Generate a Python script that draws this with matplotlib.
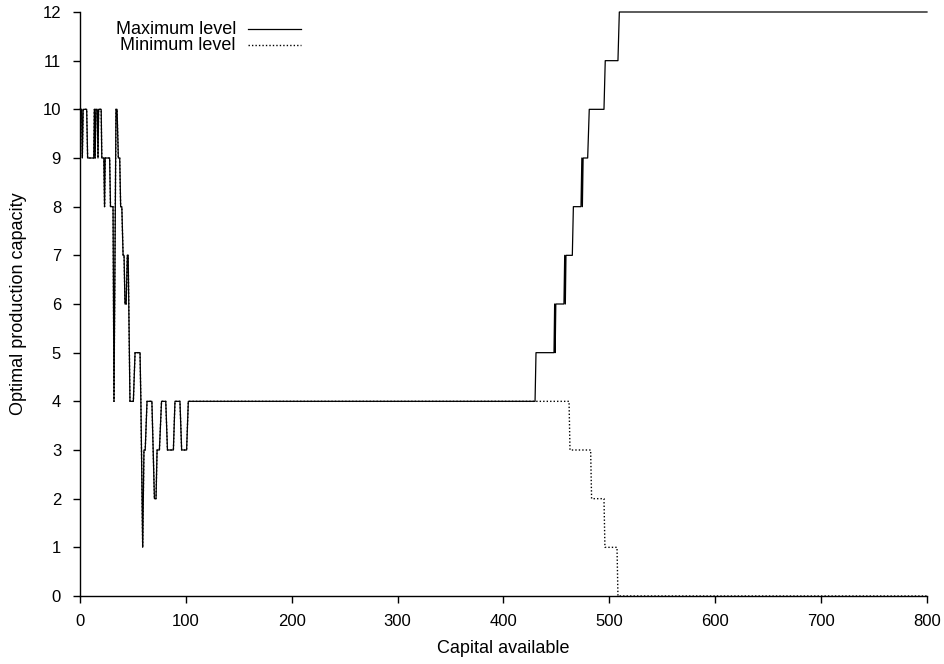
import matplotlib
matplotlib.use("Agg")
import matplotlib.pyplot as plt
from matplotlib.lines import Line2D

plt.rcParams['font.family'] = ['Liberation Sans', 'DejaVu Sans']

# Maximum level (capital, capacity) breakpoints
max_x = [0, 1.5, 2.2, 3.0, 6.3, 7.2, 13.0, 13.6, 14.3, 15.0, 16.3, 17.0, 17.6, 20.0, 20.6,
         22.5, 23.2, 23.8, 28.0, 28.8, 31.2, 32.1, 34.0, 35.0, 36.2, 37.5, 38.4, 39.5,
         40.7, 41.6, 42.5, 43.6, 44.7, 45.5, 47.2, 50.4, 52.0, 56.7, 57.5, 59.2, 60.4,
         61.6, 63.3, 67.9, 70.3, 71.8, 72.8, 75.0, 77.0, 81.0, 82.6, 88.2, 89.7, 94.4,
         96.0, 100.7, 102.3, 429.8, 430.7, 447.7, 448.3, 448.8, 449.4, 457.1, 457.8,
         458.4, 459.0, 465.0, 466.0, 473.2, 474.0, 474.5, 475.2, 479.5, 481.0, 494.9,
         496.1, 508.1, 509.4, 800]
max_y = [10, 10, 9, 10, 10, 9, 9, 10, 9, 10, 10, 9, 10, 10, 9,
         9, 8, 9, 9, 8, 8, 4, 10, 10, 9, 9, 8, 8,
         7, 7, 6, 6, 7, 7, 4, 4, 5, 5, 4, 1, 3,
         3, 4, 4, 2, 2, 3, 3, 4, 4, 3, 3, 4, 4,
         3, 3, 4, 4, 5, 5, 6, 5, 6, 6, 7,
         6, 7, 7, 8, 8, 9, 8, 9, 9, 10, 10,
         11, 11, 12, 12]

# Minimum level: identical to maximum up to 102.3, then its own steps
min_x = max_x[:57] + [461.9, 462.8, 482.3, 483.2, 494.9, 495.8, 507.2, 508.1, 800]
min_y = max_y[:57] + [4, 3, 3, 2, 2, 1, 1, 0, 0]

x_ticks = [0, 100, 200, 300, 400, 500, 600, 700, 800]
y_ticks = list(range(0, 13))

W, H = 945, 664
fig = plt.figure(figsize=(W / 100, H / 100), dpi=100)
ax = fig.add_axes([80 / W, 1 - 596 / H, 847 / W, 584 / H])

ax.plot(min_x, min_y, color='black', lw=1.0, linestyle=(0, (1, 1.5)), clip_on=False)
ax.plot(max_x, max_y, color='black', lw=0.9, clip_on=False)

ax.set_xlim(0, 800)
ax.set_ylim(0, 12)
ax.set_xticks(x_ticks)
ax.set_yticks(y_ticks)
ax.spines['top'].set_visible(False)
ax.spines['right'].set_visible(False)
for s in ('left', 'bottom'):
    ax.spines[s].set_linewidth(1.0)
ax.tick_params(direction='out', length=5, width=1.0, labelsize=12)
ax.tick_params(axis='x', pad=8)
ax.tick_params(axis='y', pad=8.6)

ax.set_xlabel('Capital available', fontsize=13)
ax.set_ylabel('Optimal production capacity', fontsize=13)
ax.xaxis.set_label_coords(0.5, (596 - 640) / 584)
ax.yaxis.set_label_coords((27 - 80) / 847, 0.5)

# legend (gnuplot style: text then line sample)
fig.text(236 / W, 1 - 29 / H, 'Maximum level', ha='right', va='center', fontsize=13)
fig.text(236 / W, 1 - 45 / H, 'Minimum level', ha='right', va='center', fontsize=13)
fig.add_artist(Line2D([248 / W, 301 / W], [1 - 28.5 / H] * 2, color='black', lw=0.9,
                      transform=fig.transFigure))
fig.add_artist(Line2D([248 / W, 301 / W], [1 - 44.5 / H] * 2, color='black', lw=1.0,
                      linestyle=(0, (1, 1.5)), transform=fig.transFigure))

fig.savefig('out.png', dpi=100)
